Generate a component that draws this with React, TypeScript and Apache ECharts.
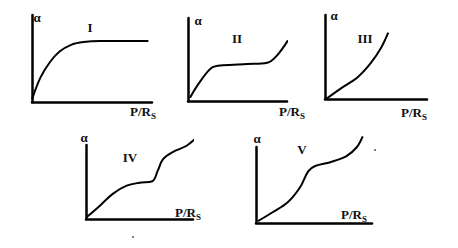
import React, { useEffect, useRef } from "react";
import * as echarts from "echarts";

// Isotherm types I–V: relative pressure (x) vs adsorbed amount α (y), arbitrary units 0–10
const typeIX = [0, 0.7, 1.5, 2.3, 3.3, 4.3, 5.7, 9.7];
const typeIY = [0.3, 2.8, 4.6, 5.8, 6.6, 6.9, 7.0, 7.0];

const typeIIX = [0.2, 1.2, 2.4, 3.5, 6.0, 8.0, 9.0, 10.1];
const typeIIY = [0.4, 2.3, 4.0, 4.3, 4.45, 4.6, 5.5, 7.3];

const typeIIIX = [0.1, 1.6, 3.2, 4.5, 5.5, 6.2];
const typeIIIY = [0, 1.3, 2.6, 4.3, 6.1, 7.9];

const typeIVX = [0.1, 1.3, 2.5, 3.8, 5.0, 6.2, 6.7, 7.2, 8.1, 9.4, 10.4];
const typeIVY = [0.3, 1.8, 3.4, 4.5, 4.9, 5.1, 6.5, 8.1, 9.05, 9.9, 11.1];

const typeVX = [0.17, 1.47, 2.76, 3.8, 4.5, 5.1, 6.4, 7.8, 8.7, 9.2];
const typeVY = [0.26, 1.45, 2.76, 4.7, 6.8, 7.5, 8.0, 8.8, 10.0, 11.4];

const panelTitles = ["I", "II", "III", "IV", "V"];
const yName = "α";
const xNameMain = "P/R";
const xNameSub = "S";

const panels = [
  { x: typeIX, y: typeIY, grid: { left: 32, top: 15, width: 120, height: 87 } },
  { x: typeIIX, y: typeIIY, grid: { left: 188, top: 18, width: 99, height: 83 } },
  { x: typeIIIX, y: typeIIIY, grid: { left: 325, top: 15, width: 102, height: 84 } },
  { x: typeIVX, y: typeIVY, grid: { left: 86, top: 145, width: 107, height: 74 } },
  { x: typeVX, y: typeVY, grid: { left: 256, top: 147, width: 116, height: 76 } },
];

const titlePos = [
  [90, 27],
  [237, 38],
  [365, 38],
  [130, 157],
  [302, 149],
];
const alphaPos = [
  [37, 17],
  [198, 20],
  [334, 15],
  [84, 137],
  [257, 138],
];
const xNamePos = [
  [143, 111],
  [292, 111],
  [414, 112],
  [188, 212],
  [354, 214],
];

const FONT = "'Liberation Serif', 'DejaVu Serif', serif";

export default function App() {
  const ref = useRef<HTMLDivElement>(null);
  useEffect(() => {
    if (!ref.current) return;
    const chart = echarts.init(ref.current, null, { renderer: "svg" });
    const axisLine = { show: true, onZero: false, lineStyle: { color: "#000", width: 2.5 } };
    const hidden = {
      axisTick: { show: false },
      axisLabel: { show: false },
      splitLine: { show: false },
    };
    const graphics: any[] = [];
    panels.forEach((_, i) => {
      graphics.push({
        type: "text",
        x: titlePos[i][0],
        y: titlePos[i][1],
        style: {
          text: panelTitles[i],
          font: `bold 13px ${FONT}`,
          fill: "#111",
          align: "center",
          verticalAlign: "middle",
        },
      });
      graphics.push({
        type: "text",
        x: alphaPos[i][0],
        y: alphaPos[i][1],
        style: {
          text: yName,
          font: `bold 13px ${FONT}`,
          fill: "#111",
          align: "center",
          verticalAlign: "middle",
        },
      });
      graphics.push({
        type: "text",
        x: xNamePos[i][0],
        y: xNamePos[i][1],
        style: {
          text: `{m|${xNameMain}}{s|${xNameSub}}`,
          align: "center",
          verticalAlign: "middle",
          rich: {
            m: { font: `bold 13px ${FONT}`, fill: "#111", verticalAlign: "bottom" },
            s: { font: `bold 9px ${FONT}`, fill: "#111", verticalAlign: "bottom", padding: [0, 0, -3, 0] },
          },
        },
      });
    });
    graphics.push({ type: "circle", shape: { cx: 375, cy: 150, r: 0.9 }, style: { fill: "#444" } });
    graphics.push({ type: "circle", shape: { cx: 133, cy: 237, r: 0.9 }, style: { fill: "#444" } });

    chart.setOption({
      animation: false,
      backgroundColor: "#fff",
      grid: panels.map((p) => ({ ...p.grid, containLabel: false })),
      xAxis: panels.map((_, i) => ({
        type: "value",
        gridIndex: i,
        min: 0,
        max: 10,
        axisLine,
        ...hidden,
      })),
      yAxis: panels.map((_, i) => ({
        type: "value",
        gridIndex: i,
        min: 0,
        max: 10,
        axisLine,
        ...hidden,
      })),
      series: panels.map((p, i) => ({
        type: "line",
        xAxisIndex: i,
        yAxisIndex: i,
        data: p.x.map((v, k) => [v, p.y[k]]),
        smooth: 0.35,
        showSymbol: false,
        clip: false,
        lineStyle: { color: "#000", width: 2 },
      })),
      graphic: graphics,
    });
    return () => chart.dispose();
  }, []);
  return (
    <div
      ref={ref}
      style={{ position: "fixed", left: 0, top: 0, width: 458, height: 248, background: "#fff" }}
    />
  );
}
